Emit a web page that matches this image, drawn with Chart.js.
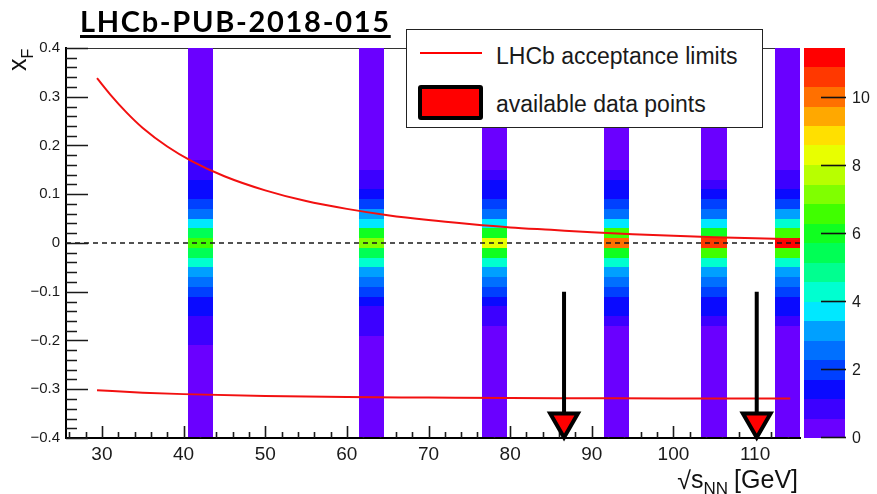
<!DOCTYPE html>
<html>
<head>
<meta charset="utf-8">
<script src="https://cdn.jsdelivr.net/npm/chart.js@4.4.1/dist/chart.umd.min.js"></script>
<style>
  html, body { margin: 0; padding: 0; background: #fff; }
  #wrap { position: relative; width: 877px; height: 494px; overflow: hidden; }
  #plot { position: absolute; left: 0; top: 0; }
  #docTag {
    position: absolute; left: 80px; top: 7px;
    font: 700 29px/28px Lato, "Liberation Sans", sans-serif;
    letter-spacing: 1.7px; color: #000; white-space: nowrap;
    text-decoration: underline; text-decoration-thickness: 2.5px; text-underline-offset: 3px;
  }
  #legendBox {
    position: absolute; left: 406px; top: 29px; width: 357px; height: 99px;
    box-sizing: border-box; border: 1px solid #222; background: #fff;
    font: 23px/23px "Liberation Sans", Arial, sans-serif; color: #1a1a1a;
  }
  #legendBox .txt { position: absolute; left: 89px; white-space: nowrap; }
  #legendBox .lineKey { position: absolute; left: 13px; top: 22px; width: 62px; height: 2px; background: #f00; }
  #legendBox .boxKey {
    position: absolute; left: 11px; top: 55px; width: 65px; height: 35px;
    box-sizing: border-box; border: 4px solid #000; border-radius: 3px; background: #f00;
  }
</style>
</head>
<body>
<div id="wrap">
  <canvas id="plot" width="877" height="494"></canvas>
  <div id="docTag">LHCb-PUB-2018-015</div>
  <div id="legendBox">
    <span class="lineKey"></span><span class="txt" style="top:15px">LHCb acceptance limits</span>
    <span class="boxKey"></span><span class="txt" style="top:63px">available data points</span>
  </div>
</div>
<script>
// axis ranges and tick labels
var xRange = [25.6, 115.5];
var yRange = [-0.4, 0.4];
var xTicks = [30, 40, 50, 60, 70, 80, 90, 100, 110];
var yTicks = [-0.4, -0.3, -0.2, -0.1, 0, 0.1, 0.2, 0.3, 0.4];
var zMax = 11.48;
var zLevels = 20;
var zTicks = [0, 2, 4, 6, 8, 10];

// sqrt(s_NN) of the simulated samples [GeV] and the width of each bin
var energies = [42.1, 63.05, 78.05, 93.0, 104.95, 113.95];
var energyBinWidth = 3.1;

// x_F bin centres (bin width 0.02)
var xfCentres = [-0.40, -0.38, -0.36, -0.34, -0.32, -0.30, -0.28, -0.26, -0.24, -0.22,
                 -0.20, -0.18, -0.16, -0.14, -0.12, -0.10, -0.08, -0.06, -0.04, -0.02,
                  0.00,  0.02,  0.04,  0.06,  0.08,  0.10,  0.12,  0.14,  0.16,  0.18,
                  0.20,  0.22,  0.24,  0.26,  0.28,  0.30,  0.32,  0.34,  0.36,  0.38, 0.40];
var xfBinWidth = 0.02;

// x_F distribution per energy, one value per bin above
var xf42 = [0.3, 0.3, 0.3, 0.3, 0.3, 0.3, 0.3, 0.3, 0.3, 0.3,
            0.7, 0.9, 1.0, 1.4, 1.5, 2.0, 2.6, 3.2, 4.3, 5.4,
            6.6, 5.4, 3.8, 2.6, 2.0, 1.5, 1.4, 0.9, 0.8, 0.3,
            0.3, 0.3, 0.3, 0.3, 0.3, 0.3, 0.3, 0.3, 0.3, 0.3, 0.3];
var xf63 = [0.3, 0.3, 0.3, 0.3, 0.3, 0.3, 0.3, 0.3, 0.3, 0.3,
            0.3, 0.7, 0.9, 1.1, 1.5, 2.0, 2.6, 3.1, 4.3, 5.4,
            7.2, 6.0, 4.0, 3.1, 2.0, 1.4, 0.9, 0.8, 0.3, 0.3,
            0.3, 0.3, 0.3, 0.3, 0.3, 0.3, 0.3, 0.3, 0.3, 0.3, 0.3];
var xf78 = [0.3, 0.3, 0.3, 0.3, 0.3, 0.3, 0.3, 0.3, 0.3, 0.3,
            0.3, 0.3, 0.8, 1.1, 1.5, 1.9, 2.4, 3.1, 4.3, 6.0,
            8.6, 6.2, 3.9, 2.6, 2.0, 1.6, 1.2, 0.8, 0.3, 0.3,
            0.3, 0.3, 0.3, 0.3, 0.3, 0.3, 0.3, 0.3, 0.3, 0.3, 0.3];
var xf93 = [0.3, 0.3, 0.3, 0.3, 0.3, 0.3, 0.3, 0.3, 0.3, 0.3,
            0.3, 0.3, 0.8, 1.2, 1.6, 2.0, 2.5, 3.2, 4.4, 6.2,
            9.8, 6.4, 4.0, 2.7, 2.0, 1.6, 1.2, 0.8, 0.3, 0.3,
            0.3, 0.3, 0.3, 0.3, 0.3, 0.3, 0.3, 0.3, 0.3, 0.3, 0.3];
var xf105 = [0.3, 0.3, 0.3, 0.3, 0.3, 0.3, 0.3, 0.3, 0.3, 0.3,
             0.3, 0.3, 0.7, 1.2, 1.6, 1.9, 2.3, 3.1, 4.4, 6.4,
             10.7, 6.3, 4.0, 2.8, 2.1, 1.5, 1.1, 0.5, 0.3, 0.3,
             0.3, 0.3, 0.3, 0.3, 0.3, 0.3, 0.3, 0.3, 0.3, 0.3, 0.3];
var xf114 = [0.3, 0.3, 0.3, 0.3, 0.3, 0.3, 0.3, 0.3, 0.3, 0.3,
             0.3, 0.3, 0.8, 1.2, 1.6, 2.0, 2.4, 3.2, 4.5, 6.5,
             11.3, 6.5, 4.1, 2.9, 2.1, 1.5, 1.1, 0.6, 0.3, 0.3,
             0.3, 0.3, 0.3, 0.3, 0.3, 0.3, 0.3, 0.3, 0.3, 0.3, 0.3];
var xfByEnergy = [xf42, xf63, xf78, xf93, xf105, xf114];

// LHCb acceptance limits in x_F
var upperS  = [29.4, 31, 33, 35, 38, 41, 45, 50, 55, 60, 65, 70, 75, 80, 85, 90, 95, 100, 105, 110, 115.3];
var upperXF = [0.338, 0.305, 0.268, 0.236, 0.198, 0.168, 0.137, 0.108, 0.086, 0.070, 0.057,
               0.047, 0.039, 0.032, 0.027, 0.022, 0.018, 0.015, 0.012, 0.0096, 0.0077];
var lowerS  = [29.4, 35, 40, 50, 60, 70, 80, 90, 100, 114.3];
var lowerXF = [-0.302, -0.307, -0.310, -0.314, -0.316, -0.317, -0.318, -0.3185, -0.319, -0.319];

// energies with data on disk
var dataS = [86.6, 110.2];
var arrowTop = -0.10;
var arrowEnd = -0.355;
var arrowHead = -0.366;

// rainbow palette, one colour per contour level
var palette = ['#6a00ff', '#3c00ff', '#0a0aff', '#0040ff', '#0070ff', '#00a0ff', '#00e8ff',
               '#00ffd0', '#00ff90', '#00ff55', '#10ff20', '#40ff00', '#80ff00', '#b8ff00',
               '#e8ff00', '#ffe000', '#ffa800', '#ff7000', '#ff3800', '#ff0000'];
var FONT = '"Liberation Sans", Arial, sans-serif';

function levelColour(v) {
  var i = Math.floor(v / (zMax / zLevels));
  return palette[Math.max(0, Math.min(zLevels - 1, i))];
}

function pairs(xs, ys) {
  return xs.map(function(x, i) { return { x: x, y: ys[i] }; });
}

// inward ticks, top frame, heat strips and colour bar
var rootFrame = {
  id: 'rootFrame',
  beforeDatasetsDraw: function(chart) {
    var ctx = chart.ctx, a = chart.chartArea;
    var xs = chart.scales.x, ys = chart.scales.y, zs = chart.scales.z;
    ctx.save();
    ctx.strokeStyle = '#333';
    ctx.lineWidth = 1;
    ctx.beginPath();
    ctx.moveTo(a.left, a.top + 0.5);
    ctx.lineTo(a.right, a.top + 0.5);
    ctx.stroke();

    ctx.strokeStyle = '#1a1a1a';
    ctx.lineWidth = 1.6;
    ctx.beginPath();
    for (var t = -0.4; t <= 0.4001; t += 0.02) {
      var py = Math.round(ys.getPixelForValue(t)) + 0.5;
      var major = Math.abs(t * 10 - Math.round(t * 10)) < 1e-6;
      ctx.moveTo(a.left, py);
      ctx.lineTo(a.left + (major ? 22 : 11), py);
    }
    for (var u = 26; u <= xRange[1]; u += 2) {
      var px = Math.round(xs.getPixelForValue(u)) + 0.5;
      ctx.moveTo(px, a.bottom);
      ctx.lineTo(px, a.bottom - (u % 10 === 0 ? 12 : 6));
    }
    ctx.stroke();

    // heat strips
    ctx.beginPath();
    ctx.rect(a.left, a.top, a.right - a.left, a.bottom - a.top - 1);
    ctx.clip();
    energies.forEach(function(e, s) {
      var x0 = Math.round(xs.getPixelForValue(e - energyBinWidth / 2));
      var x1 = Math.round(xs.getPixelForValue(e + energyBinWidth / 2));
      xfByEnergy[s].forEach(function(v, i) {
        var y0 = Math.round(ys.getPixelForValue(xfCentres[i] + xfBinWidth / 2));
        var y1 = Math.round(ys.getPixelForValue(xfCentres[i] - xfBinWidth / 2));
        ctx.fillStyle = levelColour(v);
        ctx.fillRect(x0, y0, x1 - x0, y1 - y0);
      });
    });
    ctx.restore();

    // colour bar
    ctx.save();
    var bx = a.right + 4, bw = 41;
    for (var k = 0; k < zLevels; k++) {
      var zt = Math.round(zs.getPixelForValue((k + 1) * zMax / zLevels));
      var zb = Math.round(zs.getPixelForValue(k * zMax / zLevels));
      ctx.fillStyle = palette[k];
      ctx.fillRect(bx, zt, bw, zb - zt);
    }
    ctx.strokeStyle = '#111';
    ctx.lineWidth = 1.6;
    ctx.fillStyle = '#1a1a1a';
    ctx.font = '16px ' + FONT;
    ctx.textAlign = 'left';
    ctx.textBaseline = 'middle';
    zTicks.forEach(function(z) {
      var pz = Math.round(zs.getPixelForValue(z)) - 0.5;
      ctx.beginPath();
      ctx.moveTo(bx + 17, pz);
      ctx.lineTo(bx + bw + 1, pz);
      ctx.stroke();
      ctx.fillText(String(z), bx + bw + 7, pz + 1);
    });
    ctx.restore();
  },
  afterDraw: function(chart) {
    var ctx = chart.ctx;
    ctx.save();
    ctx.fillStyle = '#111';
    ctx.textBaseline = 'alphabetic';

    // x title: sqrt(s_NN) [GeV]
    ctx.textAlign = 'right';
    ctx.font = '25px ' + FONT;
    ctx.fillText('[GeV]', 798, 488);
    var x = 798 - ctx.measureText('[GeV]').width - 6;
    ctx.font = '17px ' + FONT;
    ctx.fillText('NN', x, 494);
    x -= ctx.measureText('NN').width;
    ctx.font = '25px ' + FONT;
    ctx.fillText('s', x, 488);
    x -= ctx.measureText('s').width;
    ctx.fillText('\u221A', x, 489);

    // y title: x_F
    ctx.translate(26, 71);
    ctx.rotate(-Math.PI / 2);
    ctx.textAlign = 'left';
    ctx.font = '25px ' + FONT;
    ctx.fillText('x', 0, 0);
    ctx.font = '16px ' + FONT;
    ctx.fillText('F', 12.5, 7);
    ctx.restore();
  }
};

var datasets = [];
dataS.forEach(function(s) {
  datasets.push({
    data: [{ x: s, y: arrowHead }],
    showLine: false, pointStyle: 'triangle', rotation: 180, pointRadius: 16,
    backgroundColor: '#f00', borderColor: '#000', borderWidth: 4, clip: false
  });
  datasets.push({
    data: [{ x: s, y: arrowTop }, { x: s, y: arrowEnd }],
    showLine: true, borderColor: '#000', borderWidth: 4, pointRadius: 0
  });
});
datasets.push({
  label: 'LHCb acceptance limits',
  data: pairs(upperS, upperXF),
  showLine: true, borderColor: '#f21010', borderWidth: 2, pointRadius: 0,
  cubicInterpolationMode: 'monotone'
});
datasets.push({
  data: pairs(lowerS, lowerXF),
  showLine: true, borderColor: '#f21010', borderWidth: 2, pointRadius: 0,
  cubicInterpolationMode: 'monotone'
});
datasets.push({
  data: [{ x: xRange[0], y: 0 }, { x: xRange[1], y: 0 }],
  showLine: true, borderColor: '#1a1a1a', borderWidth: 1.6, borderDash: [5, 4], pointRadius: 0
});

new Chart(document.getElementById('plot').getContext('2d'), {
  type: 'scatter',
  data: { datasets: datasets },
  options: {
    responsive: false,
    animation: false,
    events: [],
    layout: { padding: { top: 48, right: 77, left: 0, bottom: 0 } },
    plugins: { legend: { display: false }, tooltip: { enabled: false } },
    scales: {
      x: {
        type: 'linear', min: xRange[0], max: xRange[1],
        afterFit: function(s) { s.height = 56; },
        afterBuildTicks: function(s) { s.ticks = xTicks.map(function(v) { return { value: v }; }); },
        grid: { display: false, drawTicks: false },
        border: { display: true, color: '#000', width: 2 },
        ticks: { font: { family: FONT, size: 19 }, color: '#1a1a1a', padding: 5, maxRotation: 0, autoSkip: false }
      },
      y: {
        type: 'linear', min: yRange[0], max: yRange[1],
        afterFit: function(s) { s.width = 66; },
        afterBuildTicks: function(s) { s.ticks = yTicks.map(function(v) { return { value: v }; }); },
        grid: { display: false, drawTicks: false },
        border: { display: true, color: '#000', width: 2 },
        ticks: {
          font: { family: FONT, size: 15 }, color: '#1a1a1a', padding: 6, autoSkip: false,
          callback: function(v) {
            if (Math.abs(v) < 1e-9) return '0';
            return (v < 0 ? '\u2212' : '') + Math.abs(v).toFixed(1);
          }
        }
      },
      z: { type: 'linear', position: 'right', display: false, min: 0, max: zMax }
    }
  },
  plugins: [rootFrame]
});
</script>
</body>
</html>
